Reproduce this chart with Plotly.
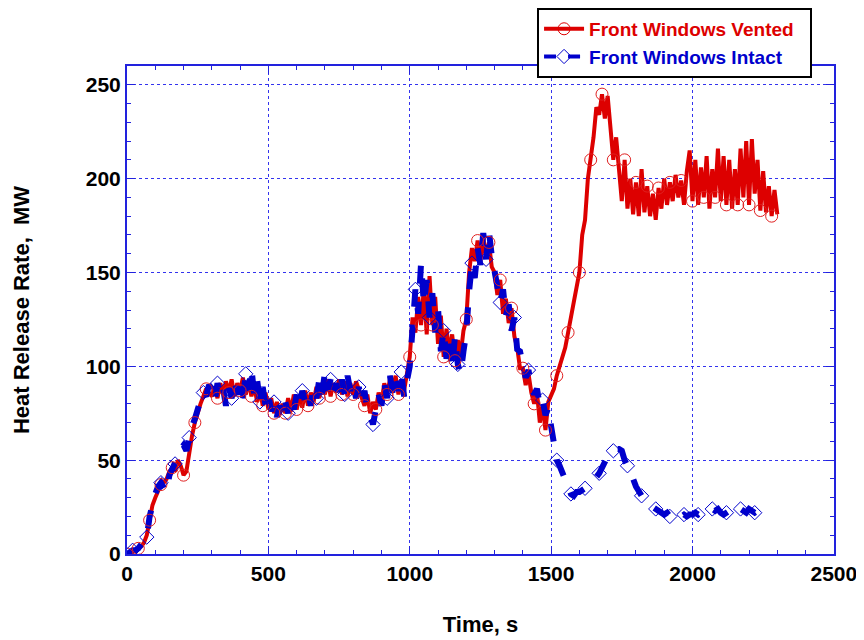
import plotly.graph_objects as go

t_vented = list(range(0, 2301, 10))
hrr_vented = [
    0, 1, 1, 2, 3, 4, 6, 10, 18, 26,
    30, 34, 37, 38, 40, 44, 46, 44, 50, 47,
    42, 44, 55, 63, 70, 76, 80, 84, 88, 86,
    84, 89, 83, 91, 85, 92, 86, 93, 84, 91,
    87, 94, 85, 92, 84, 90, 81, 88, 79, 86,
    77, 83, 75, 81, 74, 80, 75, 83, 76, 85,
    77, 84, 78, 87, 79, 86, 81, 89, 83, 91,
    85, 93, 84, 91, 86, 93, 85, 92, 84, 91,
    85, 92, 88, 84, 79, 85, 75, 81, 77, 86,
    81, 91, 85, 93, 87, 95, 85, 93, 87, 96,
    105, 126, 118, 137, 122, 142, 117, 148, 122, 137,
    112, 127, 105, 120, 107, 117, 103, 114, 106, 119,
    125, 150, 163, 156, 167, 156, 169, 158, 166, 153,
    150, 138, 146, 128, 136, 123, 131, 116, 110, 99,
    99, 90, 96, 86, 80, 86, 70, 79, 66, 81,
    85, 88, 95, 100, 105, 110, 118, 125, 134, 142,
    150, 170, 178, 200, 210, 222, 238, 234, 245, 232,
    244, 225, 210, 222, 205, 188, 210, 184, 200, 181,
    198, 180, 205, 182, 196, 180, 192, 178, 195, 184,
    200, 186, 198, 188, 202, 190, 199, 186, 204, 215,
    188, 210, 186, 206, 190, 212, 184, 205, 190, 216,
    188, 212, 186, 210, 184, 205, 186, 216, 190, 220,
    186, 221, 192, 210, 183, 204, 182, 196, 180, 194,
    181,
]

t_intact = list(range(0, 2251, 10))
hrr_intact = [
    0, 1, 2, 2, 3, 5, 7, 9, 20, 27,
    32, 36, 38, 35, 33, 42, 45, 48, 52, 56,
    58, 55, 62, 68, 72, 78, 82, 86, 84, 90,
    88, 81, 91, 84, 88, 79, 89, 83, 93, 85,
    91, 83, 96, 87, 99, 85, 93, 81, 89, 79,
    85, 76, 81, 73, 79, 74, 81, 75, 83, 77,
    85, 79, 87, 81, 86, 79, 89, 83, 93, 85,
    97, 87, 93, 85, 91, 84, 93, 85, 95, 87,
    91, 83, 89, 81, 87, 77, 74, 69, 76, 85,
    79, 91, 83, 95, 85, 93, 87, 97, 84, 93,
    100, 120, 141, 128, 155, 133, 146, 126, 139, 118,
    131, 108, 119, 104, 113, 99, 116, 101, 96, 108,
    118, 140, 155, 147, 163, 154, 171, 157, 172, 159,
    150, 144, 134, 141, 127, 133, 119, 126, 109, 108,
    100, 94, 98, 89, 85, 88, 79, 82, 74, 78,
    68, 60, 50, 47, 43, 40, 35, 32, 31, 33,
    33, 34, 35, 37, 38, 40, 41, 43, 46, 48,
    52, 53, 55, 56, 56, 55, 50, 47, 42, 40,
    36, 33, 31, 29, 27, 26, 25, 24, 23, 22,
    21, 22, 20, 21, 20, 21, 20, 21, 20, 21,
    21, 22, 21, 22, 23, 22, 23, 24, 23, 24,
    22, 21, 22, 23, 22, 23, 22, 24, 23, 22,
    24, 23, 22, 23, 22, 22,
]

x_ticks = [0, 500, 1000, 1500, 2000, 2500]
y_ticks = [0, 50, 100, 150, 200, 250]

RED = "#dd0000"
BLUE = "#0000cc"
AXIS = "#2222dd"
FONT = "Arial, Liberation Sans, sans-serif"

fig = go.Figure()

# lines
fig.add_trace(go.Scatter(x=t_vented, y=hrr_vented, mode="lines",
                         line=dict(color=RED, width=4), showlegend=False))
fig.add_trace(go.Scatter(x=t_intact, y=hrr_intact, mode="lines",
                         line=dict(color=BLUE, width=6, dash="dash"), showlegend=False))

# sparse open markers along the lines
fig.add_trace(go.Scatter(x=t_vented[::4], y=hrr_vented[::4], mode="markers",
                         marker=dict(symbol="circle-open", size=12, color="#e02020",
                                     line=dict(width=1)),
                         showlegend=False))
fig.add_trace(go.Scatter(x=t_intact[2::5], y=hrr_intact[2::5], mode="markers",
                         marker=dict(symbol="diamond-open", size=11, color=BLUE,
                                     line=dict(width=1)),
                         showlegend=False))

# legend entries
fig.add_trace(go.Scatter(x=[None], y=[None], mode="lines+markers",
                         name="<span style='color:#dd0000'>Front Windows Vented</span>\u00a0\u00a0",
                         line=dict(color=RED, width=4),
                         marker=dict(symbol="circle-open", size=12, color=RED, line=dict(width=1))))
fig.add_trace(go.Scatter(x=[None], y=[None], mode="lines+markers",
                         name="<span style='color:#0000cc'>Front Windows Intact</span>",
                         line=dict(color=BLUE, width=4, dash="dash"),
                         marker=dict(symbol="diamond-open", size=11, color=BLUE, line=dict(width=1))))

axis_common = dict(
    showline=True, linecolor=AXIS, linewidth=2, mirror="allticks",
    ticks="inside", ticklen=8, tickcolor=AXIS, tickwidth=1,
    showgrid=True, gridcolor="#3333ee", griddash="dot", gridwidth=1,
    zeroline=False, automargin=False, tickmode="array", ticklabeloverflow="allow",
    tickfont=dict(family=FONT, size=21, color="black", weight="bold"),
)

fig.update_xaxes(range=[0, 2500.5], tickvals=x_ticks, ticktext=[str(v) for v in x_ticks],
                 minor=dict(ticks="inside", tickmode="linear", tick0=0, dtick=100,
                            ticklen=4, tickcolor=AXIS, showgrid=False),
                 title=dict(text="Time, s", standoff=32,
                            font=dict(family=FONT, size=22, color="black", weight="bold")),
                 **axis_common)
fig.update_yaxes(range=[0, 260], tickvals=y_ticks, ticktext=[str(v) for v in y_ticks],
                 minor=dict(ticks="inside", tickmode="linear", tick0=0, dtick=10,
                            ticklen=4, tickcolor=AXIS, showgrid=False),
                 title=dict(text="Heat Release Rate,\u00a0 MW", standoff=50,
                            font=dict(family=FONT, size=22, color="black", weight="bold")),
                 **axis_common)

# the page body adds an 8 px margin, so the figure is 8 px smaller each way
fig.update_layout(
    width=856, height=632,
    margin=dict(l=119, r=30, t=58, b=86, autoexpand=False),
    plot_bgcolor="white", paper_bgcolor="white",
    legend=dict(x=0.58, y=1.119, xanchor="left", yanchor="top",
                bgcolor="white", bordercolor="black", borderwidth=2,
                font=dict(family=FONT, size=19, weight="bold"),
                tracegroupgap=0, itemwidth=40),
)

fig.write_html("out.html")
